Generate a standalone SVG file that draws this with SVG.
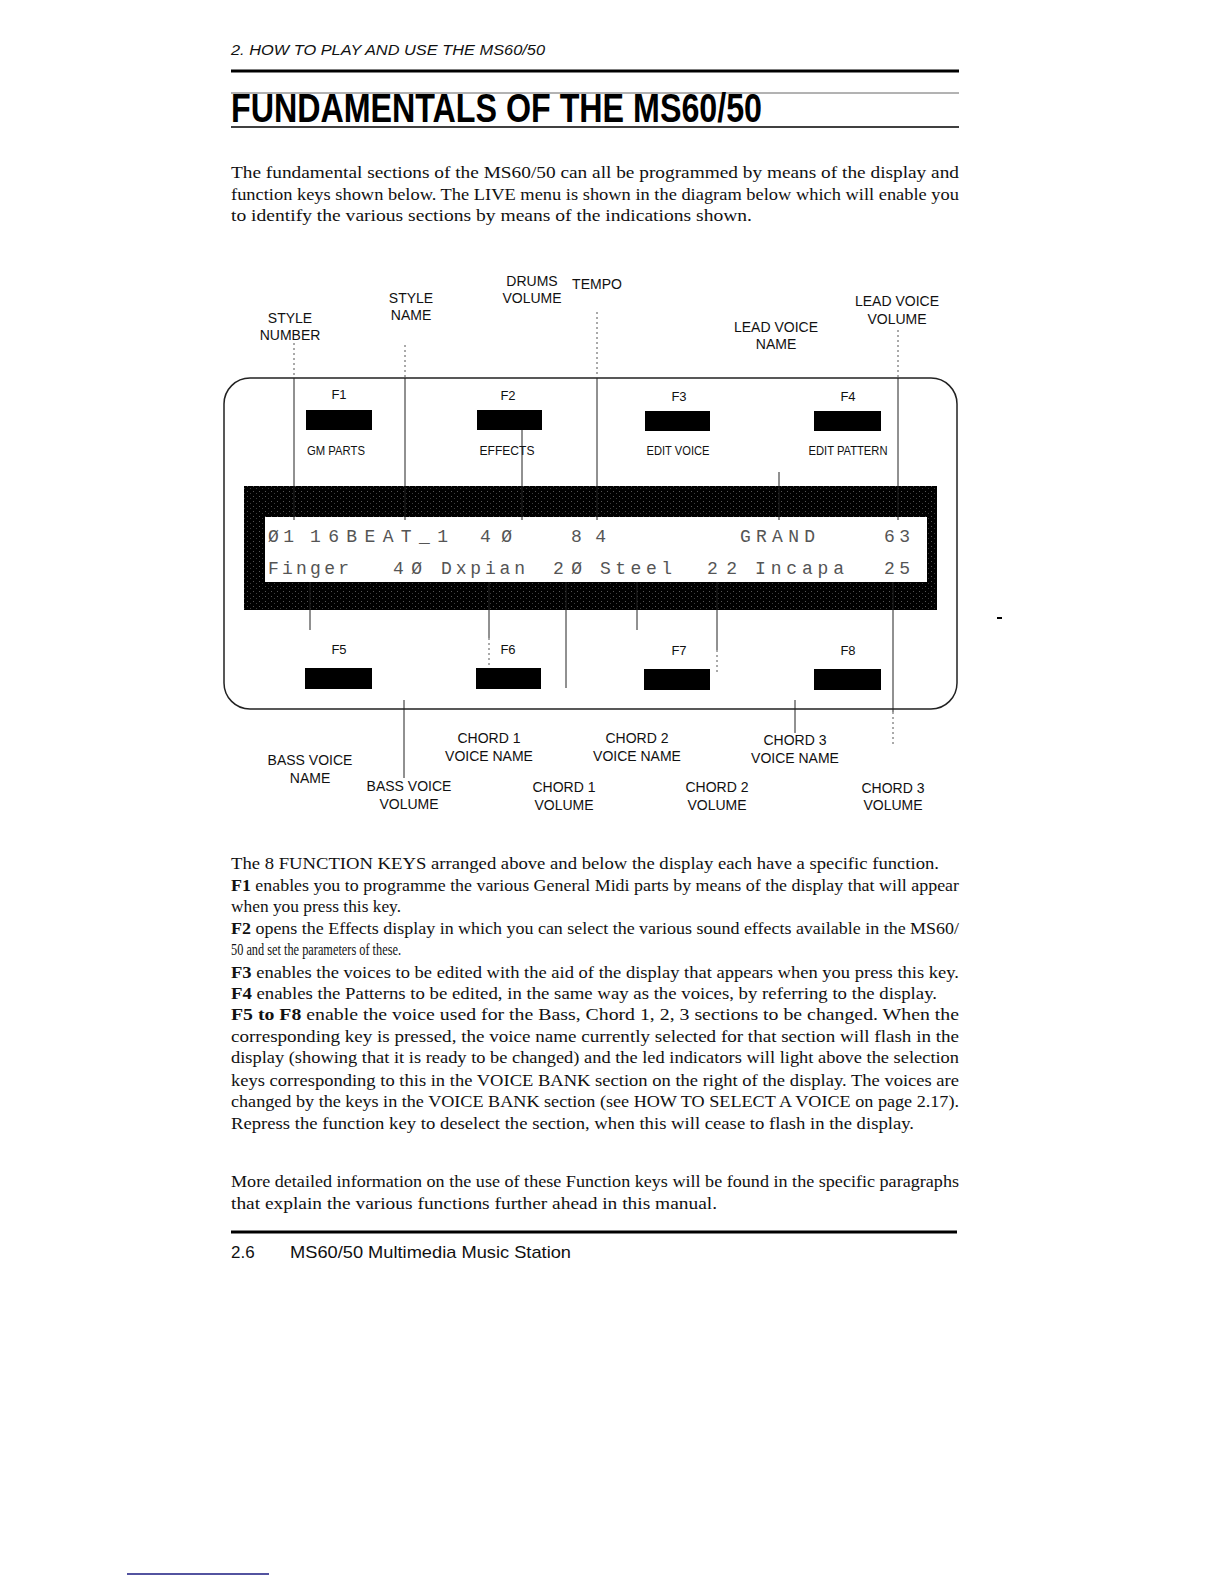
<svg xmlns="http://www.w3.org/2000/svg" width="1224" height="1584" viewBox="0 0 1224 1584">
<defs>
<style>
.hdr{font-family:"Liberation Sans",Arial,sans-serif;font-style:italic;font-size:15px;fill:#111}
.title{font-family:"Liberation Sans",Arial,sans-serif;font-weight:bold;font-size:40px;fill:#000}
.body{font-family:"Liberation Serif","Times New Roman",serif;font-size:17px;fill:#111}
.b{font-weight:bold}
.lbl{font-family:"Liberation Sans",Arial,sans-serif;font-size:14px;fill:#111;text-anchor:middle}
.key{font-family:"Liberation Sans",Arial,sans-serif;font-size:13px;fill:#111;text-anchor:middle}
.lcd{font-family:"Liberation Mono","Courier New",monospace;font-size:18px;fill:#555}
.foot{font-family:"Liberation Sans",Arial,sans-serif;font-size:17px;fill:#111}
.ln{stroke:#222;stroke-width:1;fill:none}
.dot{stroke:#555;stroke-width:1;stroke-dasharray:2 3;fill:none}
.btn{fill:#000}
</style>
<pattern id="lcdp" width="6" height="5" patternUnits="userSpaceOnUse">
<rect x="1" y="1" width="1" height="1" fill="#aaa"/>
<rect x="4" y="3" width="1" height="1" fill="#777"/>
</pattern>
</defs>
<rect width="1224" height="1584" fill="#fff"/>

<g id="header">
<text class="hdr" x="231" y="55" textLength="314" lengthAdjust="spacingAndGlyphs">2.  HOW TO PLAY AND USE THE MS60/50</text>
<rect x="231" y="69.5" width="728" height="3" fill="#000"/>
<line x1="231" y1="93" x2="959" y2="93" stroke="#666" stroke-width="1"/>
<text class="title" x="231" y="122" textLength="531" lengthAdjust="spacingAndGlyphs">FUNDAMENTALS OF THE MS60/50</text>
<line x1="231" y1="127" x2="959" y2="127" stroke="#000" stroke-width="1.5"/>
</g>

<g id="intro">
<text class="body" x="231" y="178" textLength="728" lengthAdjust="spacingAndGlyphs">The fundamental sections of the MS60/50 can all be programmed by means of the display and</text>
<text class="body" x="231" y="200" textLength="728" lengthAdjust="spacingAndGlyphs">function keys shown below. The LIVE menu is shown in the diagram below which will enable you</text>
<text class="body" x="231" y="221" textLength="521" lengthAdjust="spacingAndGlyphs">to identify the various sections by means of the indications shown.</text>
</g>

<g id="panel">
<rect x="224" y="378" width="733" height="331" rx="26" ry="26" fill="none" stroke="#222" stroke-width="1.5"/>
</g>

<g id="display">
<rect x="244" y="486" width="693" height="124" fill="#000"/>
<rect x="244" y="486" width="693" height="124" fill="url(#lcdp)" opacity="0.5"/>
<rect x="265" y="517" width="662" height="65" fill="#fff"/>
<text class="lcd" x="268" y="542" textLength="26" lengthAdjust="spacing">Ø1</text>
<text class="lcd" x="310" y="542" textLength="138" lengthAdjust="spacing">16BEAT_1</text>
<text class="lcd" x="480" y="542" textLength="32" lengthAdjust="spacing">4Ø</text>
<text class="lcd" x="571" y="542" textLength="35" lengthAdjust="spacing">84</text>
<text class="lcd" x="740" y="542" textLength="75" lengthAdjust="spacing">GRAND</text>
<text class="lcd" x="884" y="542" textLength="26" lengthAdjust="spacing">63</text>
<text class="lcd" x="268" y="574" textLength="81" lengthAdjust="spacing">Finger</text>
<text class="lcd" x="393" y="574" textLength="29" lengthAdjust="spacing">4Ø</text>
<text class="lcd" x="441" y="574" textLength="84" lengthAdjust="spacing">Dxpian</text>
<text class="lcd" x="553" y="574" textLength="29" lengthAdjust="spacing">2Ø</text>
<text class="lcd" x="600" y="574" textLength="72" lengthAdjust="spacing">Steel</text>
<text class="lcd" x="707" y="574" textLength="30" lengthAdjust="spacing">22</text>
<text class="lcd" x="755" y="574" textLength="89" lengthAdjust="spacing">Incapa</text>
<text class="lcd" x="884" y="574" textLength="26" lengthAdjust="spacing">25</text>
</g>

<g id="connectors">
<line class="dot" x1="294" y1="343" x2="294" y2="378"/>
<line class="ln" x1="294" y1="378" x2="294" y2="520"/>
<line class="dot" x1="405" y1="345" x2="405" y2="378"/>
<line class="ln" x1="405" y1="378" x2="405" y2="520"/>
<line class="ln" x1="522" y1="428" x2="522" y2="520"/>
<line class="dot" x1="597" y1="312" x2="597" y2="378"/>
<line class="ln" x1="597" y1="378" x2="597" y2="520"/>
<line class="ln" x1="779" y1="472" x2="779" y2="520"/>
<line class="dot" x1="898" y1="330" x2="898" y2="378"/>
<line class="ln" x1="898" y1="378" x2="898" y2="520"/>
<line class="ln" x1="310" y1="582" x2="310" y2="630"/>
<line class="ln" x1="489" y1="582" x2="489" y2="638"/>
<line class="dot" x1="489" y1="638" x2="489" y2="670"/>
<line class="ln" x1="566" y1="582" x2="566" y2="688"/>
<line class="ln" x1="637" y1="582" x2="637" y2="630"/>
<line class="ln" x1="717" y1="582" x2="717" y2="650"/>
<line class="dot" x1="717" y1="650" x2="717" y2="674"/>
<line class="ln" x1="893" y1="582" x2="893" y2="712"/>
<line class="dot" x1="893" y1="712" x2="893" y2="746"/>
<line class="ln" x1="404" y1="700" x2="404" y2="778"/>
<line class="ln" x1="795" y1="700" x2="795" y2="733"/>
</g>

<g id="key-f1"><text class="key" x="339" y="399">F1</text><rect class="btn" x="306" y="410" width="66" height="20"/><text class="key" x="336" y="455" textLength="58" lengthAdjust="spacingAndGlyphs">GM PARTS</text></g>
<g id="key-f2"><text class="key" x="508" y="400">F2</text><rect class="btn" x="477" y="410" width="65" height="20"/><text class="key" x="507" y="455" textLength="55" lengthAdjust="spacingAndGlyphs">EFFECTS</text></g>
<g id="key-f3"><text class="key" x="679" y="401">F3</text><rect class="btn" x="645" y="411" width="65" height="20"/><text class="key" x="678" y="455" textLength="63" lengthAdjust="spacingAndGlyphs">EDIT VOICE</text></g>
<g id="key-f4"><text class="key" x="848" y="401">F4</text><rect class="btn" x="814" y="411" width="67" height="20"/><text class="key" x="848" y="455" textLength="79" lengthAdjust="spacingAndGlyphs">EDIT PATTERN</text></g>
<g id="key-f5"><text class="key" x="339" y="654">F5</text><rect class="btn" x="305" y="668" width="67" height="21"/></g>
<g id="key-f6"><text class="key" x="508" y="654">F6</text><rect class="btn" x="476" y="668" width="65" height="21"/></g>
<g id="key-f7"><text class="key" x="679" y="655">F7</text><rect class="btn" x="644" y="669" width="66" height="21"/></g>
<g id="key-f8"><text class="key" x="848" y="655">F8</text><rect class="btn" x="814" y="669" width="67" height="21"/></g>

<g id="lbl-drums-volume"><text class="lbl" x="532" y="286">DRUMS</text><text class="lbl" x="532" y="303">VOLUME</text></g>
<g id="lbl-tempo"><text class="lbl" x="597" y="289">TEMPO</text></g>
<g id="lbl-style-name"><text class="lbl" x="411" y="303">STYLE</text><text class="lbl" x="411" y="320">NAME</text></g>
<g id="lbl-style-number"><text class="lbl" x="290" y="323">STYLE</text><text class="lbl" x="290" y="340">NUMBER</text></g>
<g id="lbl-lead-voice-volume"><text class="lbl" x="897" y="306">LEAD VOICE</text><text class="lbl" x="897" y="324">VOLUME</text></g>
<g id="lbl-lead-voice-name"><text class="lbl" x="776" y="332">LEAD VOICE</text><text class="lbl" x="776" y="349">NAME</text></g>

<g id="lbl-bass-voice-name"><text class="lbl" x="310" y="765">BASS VOICE</text><text class="lbl" x="310" y="783">NAME</text></g>
<g id="lbl-bass-voice-volume"><text class="lbl" x="409" y="791">BASS VOICE</text><text class="lbl" x="409" y="809">VOLUME</text></g>
<g id="lbl-chord1-voice-name"><text class="lbl" x="489" y="743">CHORD 1</text><text class="lbl" x="489" y="761">VOICE NAME</text></g>
<g id="lbl-chord2-voice-name"><text class="lbl" x="637" y="743">CHORD 2</text><text class="lbl" x="637" y="761">VOICE NAME</text></g>
<g id="lbl-chord3-voice-name"><text class="lbl" x="795" y="745">CHORD 3</text><text class="lbl" x="795" y="763">VOICE NAME</text></g>
<g id="lbl-chord1-volume"><text class="lbl" x="564" y="792">CHORD 1</text><text class="lbl" x="564" y="810">VOLUME</text></g>
<g id="lbl-chord2-volume"><text class="lbl" x="717" y="792">CHORD 2</text><text class="lbl" x="717" y="810">VOLUME</text></g>
<g id="lbl-chord3-volume"><text class="lbl" x="893" y="793">CHORD 3</text><text class="lbl" x="893" y="810">VOLUME</text></g>

<rect x="997" y="617" width="5" height="2" fill="#000"/>

<g id="description">
<text class="body" x="231" y="869" textLength="708" lengthAdjust="spacingAndGlyphs">The 8 FUNCTION KEYS arranged above and below the display each have a specific function.</text>
<text class="body" x="231" y="891" textLength="728" lengthAdjust="spacingAndGlyphs"><tspan class="b">F1</tspan> enables you to programme the various General Midi parts by means of the display that will appear</text>
<text class="body" x="231" y="912" textLength="170" lengthAdjust="spacingAndGlyphs">when you press this key.</text>
<text class="body" x="231" y="934" textLength="728" lengthAdjust="spacingAndGlyphs"><tspan class="b">F2</tspan> opens the Effects display in which you can select the various sound effects available in the MS60/</text>
<text class="body" x="231" y="955" textLength="170" lengthAdjust="spacingAndGlyphs">50 and set the parameters of these.</text>
<text class="body" x="231" y="978" textLength="728" lengthAdjust="spacingAndGlyphs"><tspan class="b">F3</tspan> enables the voices to be edited with the aid of the display that appears when you press this key.</text>
<text class="body" x="231" y="999" textLength="706" lengthAdjust="spacingAndGlyphs"><tspan class="b">F4</tspan> enables the Patterns to be edited, in the same way as the voices, by referring to the display.</text>
<text class="body" x="231" y="1020" textLength="728" lengthAdjust="spacingAndGlyphs"><tspan class="b">F5 to F8</tspan> enable the voice used for the Bass, Chord 1, 2, 3 sections to be changed. When the</text>
<text class="body" x="231" y="1042" textLength="728" lengthAdjust="spacingAndGlyphs">corresponding key is pressed, the voice name currently selected for that section will flash in the</text>
<text class="body" x="231" y="1063" textLength="728" lengthAdjust="spacingAndGlyphs">display (showing that it is ready to be changed) and the led indicators will light above the selection</text>
<text class="body" x="231" y="1086" textLength="728" lengthAdjust="spacingAndGlyphs">keys corresponding to this in the VOICE BANK section on the right of the display. The voices are</text>
<text class="body" x="231" y="1107" textLength="728" lengthAdjust="spacingAndGlyphs">changed by the keys in the VOICE BANK section (see HOW TO SELECT A VOICE on page 2.17).</text>
<text class="body" x="231" y="1129" textLength="683" lengthAdjust="spacingAndGlyphs">Repress the function key to deselect the section, when this will cease to flash in the display.</text>
<text class="body" x="231" y="1187" textLength="728" lengthAdjust="spacingAndGlyphs">More detailed information on the use of these Function keys will be found in the specific paragraphs</text>
<text class="body" x="231" y="1209" textLength="486" lengthAdjust="spacingAndGlyphs">that explain the various functions further ahead in this manual.</text>
</g>

<g id="footer">
<rect x="231" y="1230.5" width="726" height="3" fill="#000"/>
<text class="foot" x="231" y="1258">2.6</text>
<text class="foot" x="290" y="1258" textLength="281" lengthAdjust="spacingAndGlyphs">MS60/50 Multimedia Music Station</text>
<line x1="127" y1="1574" x2="269" y2="1574" stroke="#1a1a80" stroke-width="1.5"/>
</g>
</svg>
